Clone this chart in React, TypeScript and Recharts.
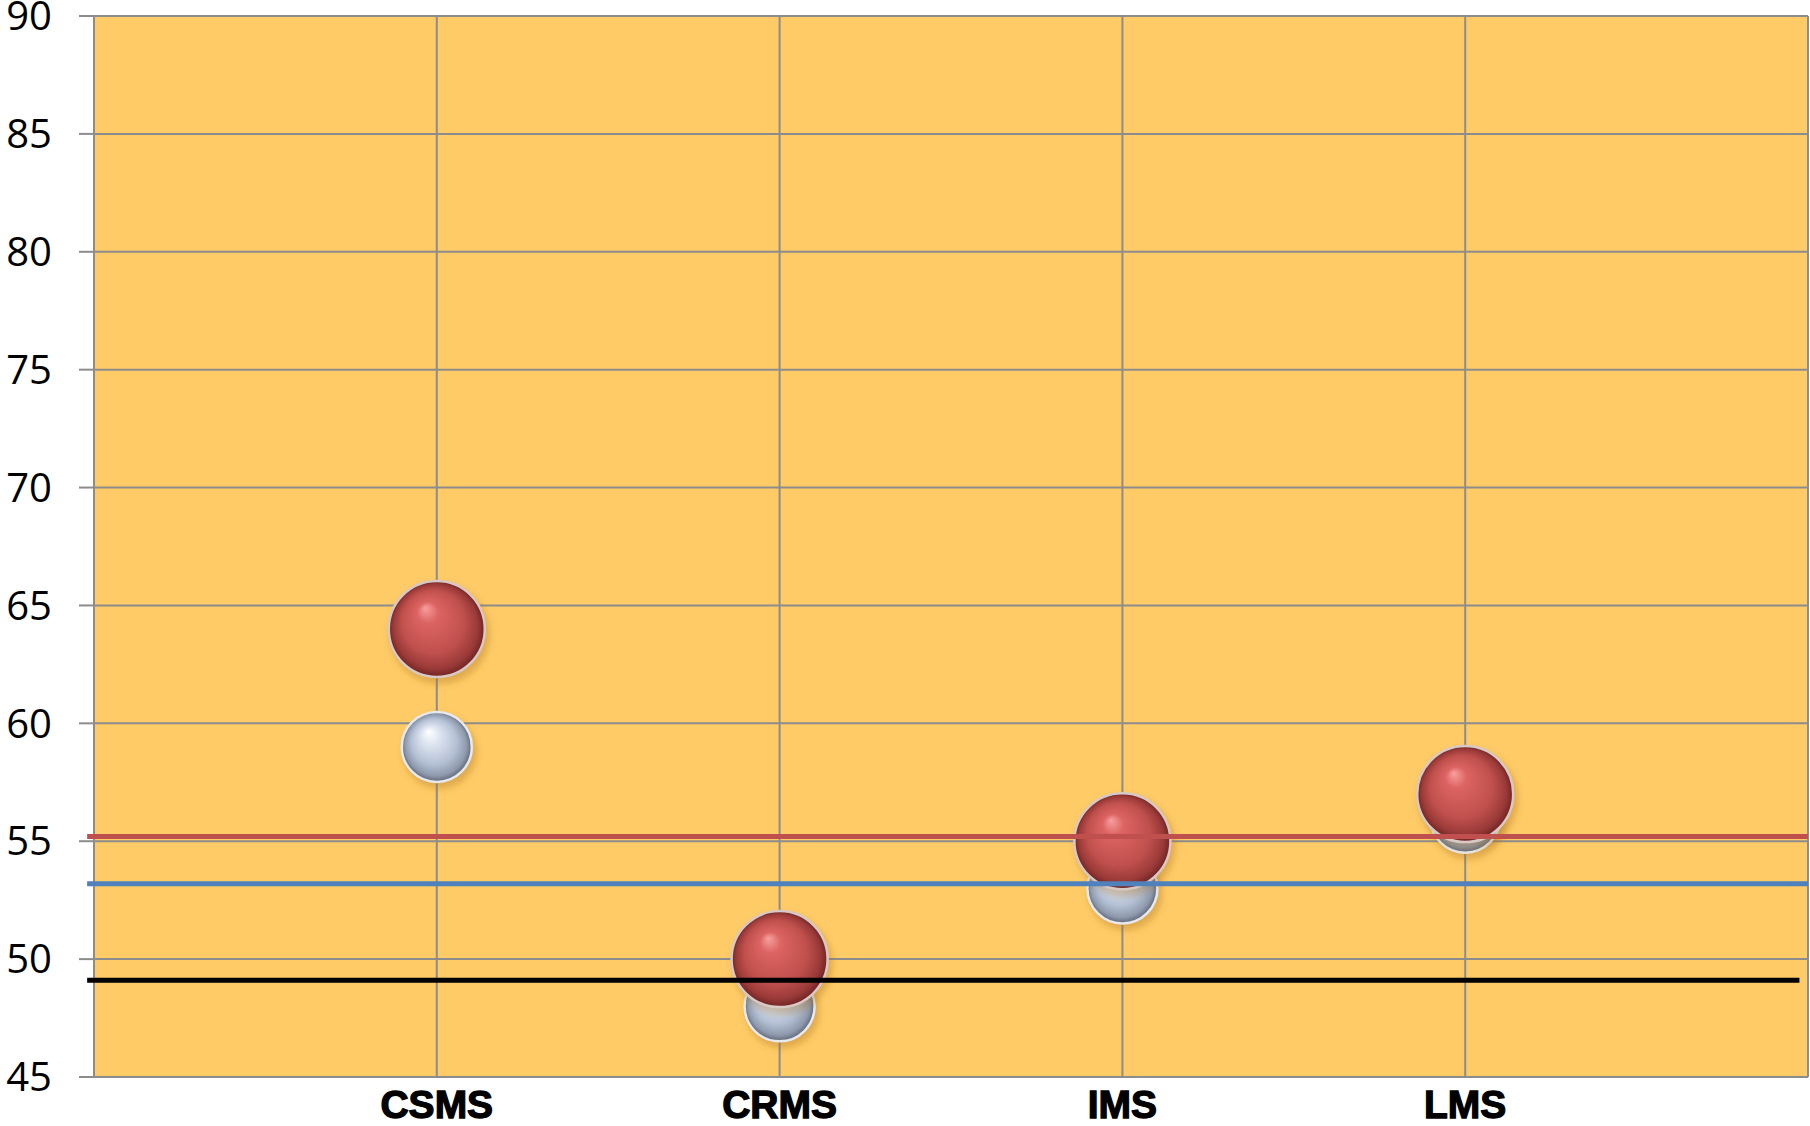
import React from 'react';
import { ScatterChart, Scatter, XAxis, YAxis, CartesianGrid, ReferenceLine } from 'recharts';

const categories = ['CSMS', 'CRMS', 'IMS', 'LMS'];
const categoryPositions = [1, 2, 3, 4];
const silverValues = [59, 48, 53, 56];
const redValues = [64, 50, 55, 57];
const yTicks = [45, 50, 55, 60, 65, 70, 75, 80, 85, 90];
const xTicks = [0, 1, 2, 3, 4, 5];
const redLevel = 55.2;
const blueLevel = 53.2;
const blackLevel = 49.1;

const silverData = categoryPositions.map((x, i) => ({ x, y: silverValues[i] }));
const redData = categoryPositions.map((x, i) => ({ x, y: redValues[i] }));

const GRID = '#8c8c8c';

const Sphere = (props: any, kind: 'red' | 'silver') => {
  const { cx, cy } = props;
  if (cx == null || cy == null) return null;
  const r = kind === 'red' ? 48 : 35;
  return (
    <g>
      <circle cx={cx + 3} cy={cy + 5} r={r + 2} fill="rgba(170,110,20,0.35)" filter="url(#blurShadow)" />
      <circle cx={cx} cy={cy} r={r} fill={kind === 'red' ? 'url(#redGrad)' : 'url(#silverGrad)'} stroke={kind === 'red' ? '#d9c9c6' : '#e6e9ee'} strokeWidth={2.5} />
    </g>
  );
};

const xLabel = (v: number) => {
  const idx = categoryPositions.indexOf(v);
  return idx >= 0 ? categories[idx] : '';
};

export default function App() {
  return (
    <div style={{ position: 'absolute', left: 0, top: 0, width: 1810, height: 1126, background: '#ffffff' }}>
      <ScatterChart width={1810} height={1126} margin={{ top: 16, right: 2, left: 0, bottom: 0 }}>
        <defs>
          <radialGradient id="redGrad" cx="50%" cy="50%" r="50%" fx="38%" fy="28%">
            <stop offset="0%" stopColor="#f7a0a0" />
            <stop offset="22%" stopColor="#dc6462" />
            <stop offset="65%" stopColor="#c0504d" />
            <stop offset="88%" stopColor="#9a3a38" />
            <stop offset="100%" stopColor="#6e2422" />
          </radialGradient>
          <radialGradient id="silverGrad" cx="50%" cy="50%" r="50%" fx="38%" fy="28%">
            <stop offset="0%" stopColor="#ffffff" />
            <stop offset="25%" stopColor="#dfe6f2" />
            <stop offset="65%" stopColor="#b4c0d4" />
            <stop offset="88%" stopColor="#8e99ad" />
            <stop offset="100%" stopColor="#5f6675" />
          </radialGradient>
          <filter id="blurShadow" x="-50%" y="-50%" width="200%" height="200%">
            <feGaussianBlur stdDeviation="3" />
          </filter>
        </defs>
        <CartesianGrid fill="#fecb67" stroke={GRID} strokeWidth={2} />
        <XAxis
          type="number"
          dataKey="x"
          domain={[0, 5]}
          ticks={xTicks}
          tickFormatter={xLabel}
          interval={0}
          height={49}
          axisLine={{ stroke: GRID, strokeWidth: 2 }}
          tickLine={false}
          tickSize={0}
          tickMargin={13}
          tick={{ fill: '#000', fontSize: 39, fontWeight: 700, fontFamily: 'Liberation Sans, Arial, sans-serif', stroke: '#000', strokeWidth: 1.3 }}
        />
        <YAxis
          type="number"
          dataKey="y"
          domain={[45, 90]}
          ticks={yTicks}
          interval={0}
          width={94}
          axisLine={{ stroke: GRID, strokeWidth: 2 }}
          tickLine={{ stroke: GRID, strokeWidth: 2 }}
          tickSize={15}
          tickMargin={27}
          tick={{ fill: '#000', fontSize: 40, fontFamily: 'Open Sans, Noto Sans, sans-serif' }}
        />
        <Scatter data={silverData} isAnimationActive={false} shape={(p: any) => Sphere(p, 'silver')} />
        <Scatter data={redData} isAnimationActive={false} shape={(p: any) => Sphere(p, 'red')} />
        <ReferenceLine
          segment={[{ x: -0.02, y: redLevel }, { x: 5, y: redLevel }]}
          ifOverflow="visible"
          stroke="#c0504d"
          strokeWidth={5}
          zIndex={1000}
        />
        <ReferenceLine
          segment={[{ x: -0.02, y: blueLevel }, { x: 5, y: blueLevel }]}
          ifOverflow="visible"
          stroke="#4f81bd"
          strokeWidth={5}
          zIndex={1000}
        />
        <ReferenceLine
          segment={[{ x: -0.02, y: blackLevel }, { x: 4.975, y: blackLevel }]}
          ifOverflow="visible"
          stroke="#000000"
          strokeWidth={5}
          zIndex={1000}
        />
      </ScatterChart>
    </div>
  );
}
